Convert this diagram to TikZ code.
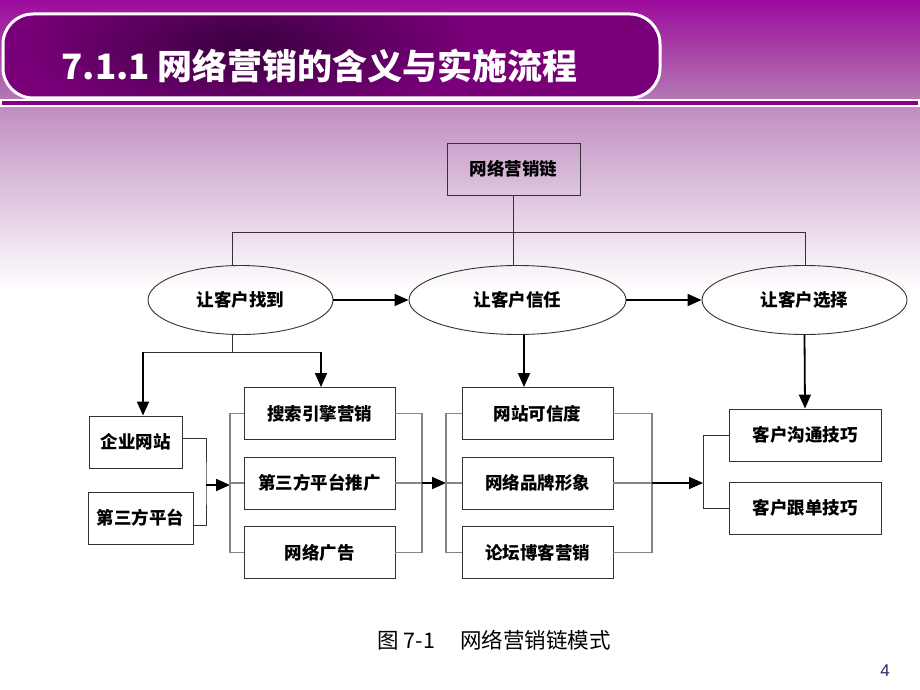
\documentclass[tikz,border=0pt]{standalone}
\usepackage{fontspec}
\setmainfont{Noto Sans CJK SC}
\newfontfamily\numfont{Liberation Sans}
\usetikzlibrary{arrows.meta,shapes.geometric}

\definecolor{slidetop}{HTML}{9C0A9C}
\definecolor{slidemid}{HTML}{B47AB4}
\definecolor{slidelow}{HTML}{C08EC0}
\definecolor{headpurple}{HTML}{7A007A}
\definecolor{headdark}{HTML}{3A0040}
\definecolor{barpurple}{HTML}{880088}
\definecolor{pagenum}{HTML}{2A2A6A}
\definecolor{edge}{HTML}{333333}
\definecolor{bracketgray}{HTML}{858585}

\begin{document}
\begin{tikzpicture}[x=1pt, y=-1pt, line width=0.9pt,
    box/.style={draw=edge, minimum height=52pt, inner sep=0pt,
                font=\fontsize{17.5}{17.5}\selectfont\bfseries},
    oval/.style={ellipse, draw=edge, minimum height=69pt, inner sep=0pt,
                 font=\fontsize{17.5}{17.5}\selectfont\bfseries},
    link/.style={draw=edge, line width=0.9pt},
    brk/.style={draw=bracketgray, line width=1.5pt},
    arr/.style={draw=black, line width=1.8pt, -{Triangle[length=14pt,width=12pt]}}]
    \useasboundingbox (0,0) rectangle (920,690);

    %---- slide background
    \fill[white] (0,0) rectangle (920,690);
    \shade[top color=slidetop, bottom color=slidemid] (0,0) rectangle (920,100);
    \shade[top color=slidelow, bottom color=white] (0,106) rectangle (920,290);

    %---- title banner
    \fill[headpurple, rounded corners=30pt] (3,14) rectangle (660,98);
    \begin{scope}
      \clip[rounded corners=30pt] (3,14) rectangle (660,98);
      \shade[inner color=headdark, outer color=headpurple] (245,45) ellipse (230 and 80);
    \end{scope}
    \draw[white, line width=3pt, rounded corners=30pt] (3,14) rectangle (660,98);
    \node[anchor=west, inner sep=0pt, text=white,
          font=\fontsize{35}{35}\selectfont\bfseries] (title) at (61,66)
          {7.1.1 网络营销的含义与实施流程};

    %---- rule under the banner
    \fill[white] (0,99) rectangle (920,107);
    \fill[barpurple] (2,101) rectangle (918,105);

    %---- top of the chain
    \node[box, minimum width=133pt] (chain) at (513.5,169) {网络营销链};

    \node[oval, minimum width=185pt] (find)   at (240.5,300) {让客户找到};
    \node[oval, minimum width=217pt] (trust)  at (517.5,300) {让客户信任};
    \node[oval, minimum width=205pt] (choose) at (804.5,300) {让客户选择};

    \coordinate (busL) at (232,232);
    \coordinate (busM) at (513.5,232);
    \coordinate (busR) at (805,232);
    \draw[link] (chain.south) -- (busM |- trust.north);
    \draw[link] (busL |- find.north) -- (busL) -- (busR) -- (busR |- choose.north);

    \draw[arr] (find.east) -- (trust.west);
    \draw[arr] (trust.east) -- (choose.west);

    %---- left column
    \node[box, minimum width=93pt]  (site)  at (135.5,442) {企业网站};
    \node[box, minimum width=105pt] (third) at (140.5,518) {第三方平台};

    \node[box, minimum width=151pt] (seo)   at (319.5,413.5) {搜索引擎营销};
    \node[box, minimum width=151pt] (promo) at (319.5,483)   {第三方平台推广};
    \node[box, minimum width=151pt] (ads)   at (319.5,552.5) {网络广告};

    \coordinate (splitF)  at (232,352);
    \coordinate (splitFL) at (143,352);
    \coordinate (splitFR) at (321,352);
    \draw[link] (find.south -| splitF) -- (splitF);
    \draw[link] (splitFL) -- (splitFR);
    \draw[arr] (splitFL) -- (splitFL |- site.north);
    \draw[arr] (splitFR) -- (splitFR |- seo.north);

    \coordinate (joinA) at (206,485);
    \coordinate (brA)   at (230,485);
    \draw[link] ([yshift=4pt]site.east) -| (joinA) |- ([yshift=-7pt]third.east);
    \draw[arr] (joinA) -- (brA);
    \draw[brk] (seo.west) -| (brA) |- (ads.west);
    \draw[brk] (promo.west) -- (promo.west -| brA);

    %---- trust column
    \node[box, minimum width=151pt] (cred)  at (537.5,413.5) {网站可信度};
    \node[box, minimum width=151pt] (brand) at (537.5,483)   {网络品牌形象};
    \node[box, minimum width=151pt] (blog)  at (537.5,552.5) {论坛博客营销};

    \coordinate (splitT) at (524,335);
    \draw[arr] (splitT |- trust.south) -- (splitT |- cred.north);

    \coordinate (joinB) at (422,483);
    \coordinate (brB)   at (446,483);
    \draw[brk] (seo.east) -| (joinB) |- (ads.east);
    \draw[brk] (promo.east) -- (joinB);
    \draw[arr] (joinB) -- (brB);
    \draw[brk] (cred.west) -| (brB) |- (blog.west);
    \draw[brk] (brand.west) -- (brand.west -| brB);

    %---- choice column
    \node[box, minimum width=152pt] (talk)   at (805,435) {客户沟通技巧};
    \node[box, minimum width=152pt] (follow) at (805,508) {客户跟单技巧};

    \draw[arr] (choose.south) -- (talk.north);

    \coordinate (joinC) at (652,483);
    \coordinate (brC)   at (703,483);
    \draw[brk] (cred.east) -| (joinC) |- (blog.east);
    \draw[brk] (brand.east) -- (joinC);
    \draw[arr] (joinC) -- (brC);
    \draw[link] (talk.west) -| (brC) |- (follow.west);

    %---- caption and page number
    \node[anchor=west, inner sep=0pt, font=\fontsize{21.5}{21.5}\selectfont] (caption) at (377,640)
          {图 7-1\hspace{25pt}网络营销链模式};
    \node[inner sep=0pt, text=pagenum, font=\numfont\fontsize{17}{17}\selectfont] (page) at (885,671) {4};
\end{tikzpicture}
\end{document}
